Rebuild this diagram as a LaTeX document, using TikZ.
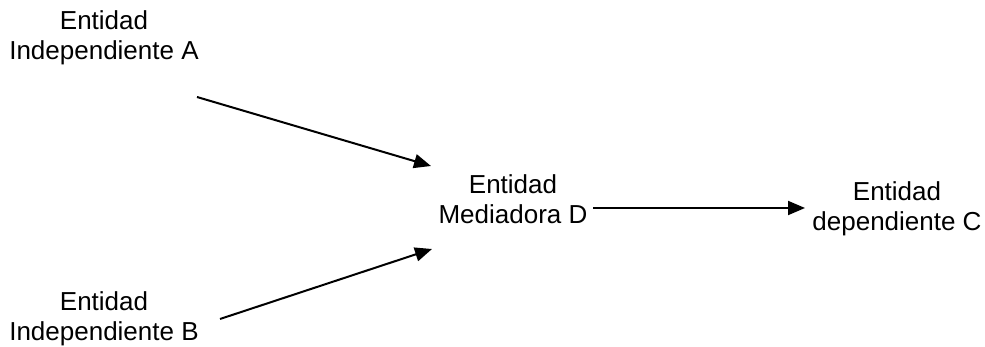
\documentclass[tikz,border=0pt]{standalone}
\usepackage{fontspec}
\setmainfont{Liberation Sans}
\usetikzlibrary{arrows.meta}
\begin{document}
\begin{tikzpicture}[x=0.5pt,y=-0.5pt,
  label/.style={font=\fontsize{13pt}{15pt}\selectfont, align=center, anchor=base, inner sep=0pt},
  link/.style={line width=1pt, -{Triangle[length=8.5pt,width=7pt]}}]
\useasboundingbox (0,0) rectangle (985,347);
% entity labels (anchored at the baseline of the last line)
\node[label] (A) at (104,60)  {Entidad\\Independiente A};
\node[label] (B) at (104,341) {Entidad\\Independiente B};
\node[label] (D) at (513,224) {Entidad\\Mediadora D};
\node[label] (C) at (897,231) {Entidad\\dependiente C};
% connector end points
\coordinate (a1) at (197,97);
\coordinate (a2) at (431,166);
\coordinate (b1) at (220,319);
\coordinate (b2) at (432,249);
\coordinate (d1) at (593,208);
\coordinate (c1) at (805,208);
\draw[link] (a1) -- (a2);
\draw[link] (b1) -- (b2);
\draw[link] (d1) -- (c1);
\end{tikzpicture}
\end{document}
